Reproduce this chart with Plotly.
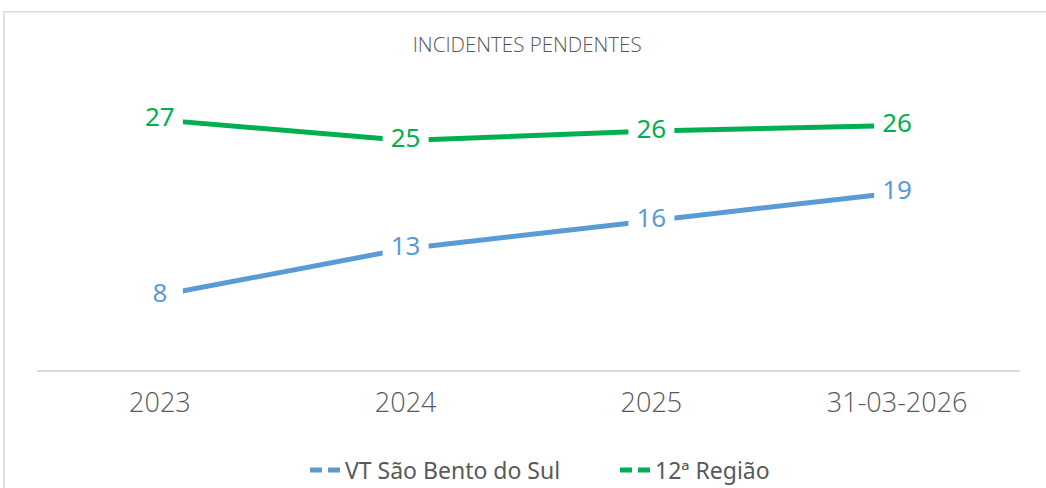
import plotly.graph_objects as go

# categories and series values
periods = ["2023", "2024", "2025", "31-03-2026"]
vt_sao_bento = [8, 13, 16, 19]
regiao_12 = [26.8, 24.6, 25.6, 26.2]

BLUE = "#5B9BD5"
GREEN = "#00B050"
GREY_TXT = "#595959"
LABEL_FONT = "Noto Sans"
AXIS_FONT = "Open Sans"


def series_trace(name, values, color):
    # line + white square markers behind the labels so the line breaks around them (Excel look)
    return go.Scatter(
        x=periods, y=values, name=name, mode="lines+markers+text",
        line=dict(color=color, width=5),
        marker=dict(symbol="square", size=46, color="white", line=dict(width=0)),
        text=[f"{round(v + 1e-9):.0f}" for v in values],
        textposition="middle center",
        textfont=dict(family=LABEL_FONT, size=26, color=color),
        showlegend=False, hoverinfo="skip", cliponaxis=False)


def legend_trace(name, color):
    return go.Scatter(
        x=[None], y=[None], name=name, mode="lines",
        line=dict(color=color, width=5, dash="12px,6px"))


fig = go.Figure()
fig.add_trace(series_trace("VT São Bento do Sul", vt_sao_bento, BLUE))
fig.add_trace(series_trace("12ª Região", regiao_12, GREEN))
fig.add_trace(legend_trace("VT São Bento do Sul", BLUE))
fig.add_trace(legend_trace("12ª Região", GREEN))

fig.update_layout(
    width=1046, height=488,
    margin=dict(l=37, r=26, t=90, b=118, autoexpand=False),
    paper_bgcolor="white", plot_bgcolor="white",
    title=dict(text="INCIDENTES PENDENTES", x=0.504, xanchor="center",
               y=1 - 45 / 488, yanchor="middle",
               font=dict(family=AXIS_FONT, size=20.5, color=GREY_TXT, weight=300)),
    legend=dict(orientation="h", xref="container", yref="container",
                x=305 / 1046, xanchor="left", y=1 - 470 / 488, yanchor="middle",
                font=dict(family=LABEL_FONT, size=23, color=GREY_TXT),
                entrywidth=265, entrywidthmode="pixels",
                itemwidth=30, tracegroupgap=0),
)
fig.update_xaxes(type="category", range=[-0.5, 3.5], showgrid=False,
                 showline=True, linecolor="#D9D9D9", linewidth=2,
                 ticks="", ticklabelstandoff=8, automargin=False,
                 tickfont=dict(family=AXIS_FONT, size=27, color=GREY_TXT, weight=300))
fig.update_yaxes(range=[0, 30], visible=False, showgrid=False)

# chart-area border, only top and left are inside the cropped picture
fig.add_shape(type="rect", xref="paper", yref="paper",
              x0=-0.0336, x1=1.2, y0=-1.0, y1=1.2796,
              line=dict(color="#D9D9D9", width=1.5), layer="below")

# page body margin would otherwise shift the whole chart by 8px
fig.write_html("out.html", config={"displayModeBar": False},
               post_script="document.body.style.margin='0';")
